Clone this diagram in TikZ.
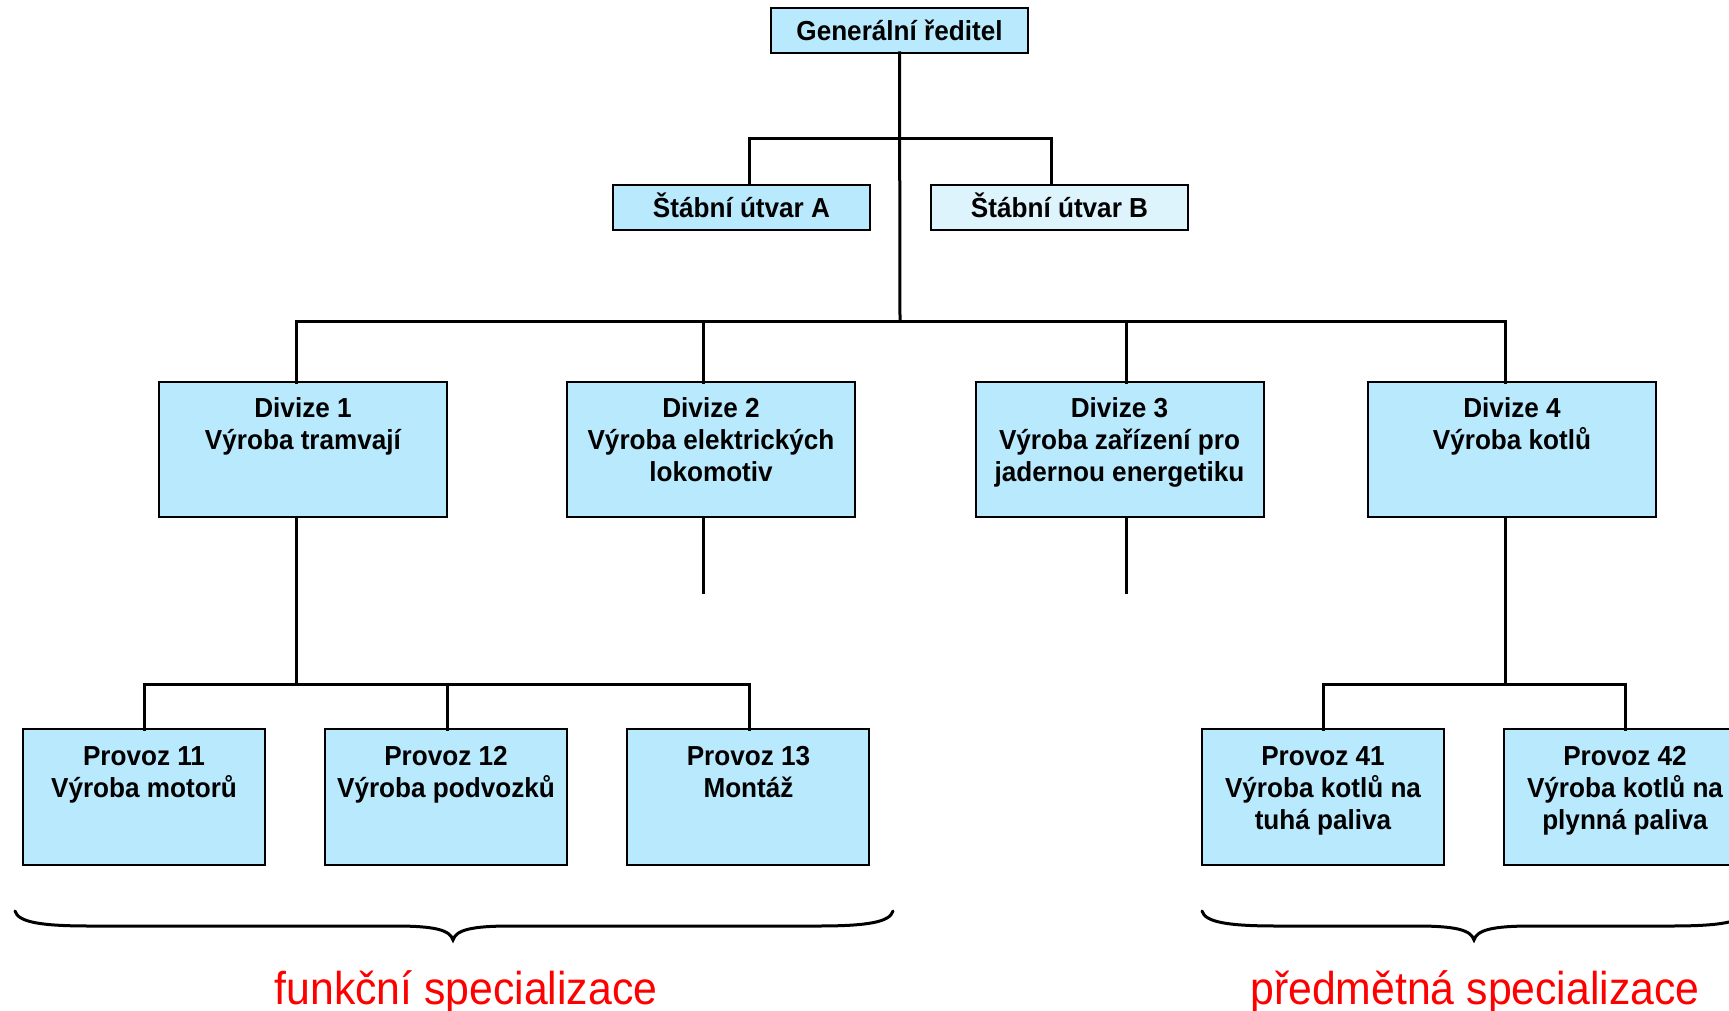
\documentclass[tikz,border=0pt]{standalone}
\usepackage{fontspec}
\setmainfont[FakeStretch=0.93]{Liberation Sans}
\newfontfamily\boxfont[FakeStretch=0.95]{Liberation Sans}
\definecolor{boxblue}{RGB}{185,233,253}
\definecolor{boxlight}{RGB}{222,244,253}
\definecolor{labred}{RGB}{255,0,0}
\newcommand{\topstrut}{\rule{0pt}{26pt}}
\tikzset{
  box/.style={draw=black, line width=2pt, fill=boxblue, rectangle, inner sep=0pt, outer sep=0pt, anchor=north west},
  txt/.style={align=center, inner sep=0pt, anchor=north, font=\boxfont\fontsize{27.5}{32}\selectfont\bfseries},
  conn/.style={line width=3pt, line cap=rect},
  brace/.style={line width=3pt, line cap=round},
  lab/.style={text=labred, inner sep=0pt, anchor=base, font=\fontsize{46}{50}\selectfont}
}
\begin{document}
\begin{tikzpicture}[x=1pt,y=-1pt]
\useasboundingbox (0,0) rectangle (1729,1011);
\clip (0,0) rectangle (1729,1011);
\fill[white] (0,0) rectangle (1729,1011);

% connector end points
\coordinate (bus) at (900,321);
\coordinate (staffj) at (900,139);
\coordinate (saT) at (749,185);
\coordinate (sbT) at (1051,185);
\coordinate (d1T) at (296,382);
\coordinate (d2T) at (703,382);
\coordinate (d3T) at (1126,382);
\coordinate (d4T) at (1505,382);
\coordinate (d1B) at (296,517);
\coordinate (d2B) at (703,517);
\coordinate (d3B) at (1126,517);
\coordinate (d4B) at (1505,517);
\coordinate (d2S) at (703,592);
\coordinate (d3S) at (1126,592);
\coordinate (pj1) at (296,684);
\coordinate (pj4) at (1505,684);
\coordinate (p11T) at (144,729);
\coordinate (p12T) at (447,729);
\coordinate (p13T) at (749,729);
\coordinate (p41T) at (1323,729);
\coordinate (p42T) at (1625,729);

% boxes
\node[box, minimum width=257pt, minimum height=45pt] (gr) at (771,8) {};
\node[box, minimum width=257pt, minimum height=45pt] (sa) at (613,185) {};
\node[box, fill=boxlight, minimum width=257pt, minimum height=45pt] (sb) at (931,185) {};
\node[box, minimum width=288pt, minimum height=135pt] (d1) at (159,382) {};
\node[box, minimum width=288pt, minimum height=135pt] (d2) at (567,382) {};
\node[box, minimum width=288pt, minimum height=135pt] (d3) at (976,382) {};
\node[box, minimum width=288pt, minimum height=135pt] (d4) at (1368,382) {};
\node[box, minimum width=242pt, minimum height=136pt] (p11) at (23,729) {};
\node[box, minimum width=242pt, minimum height=136pt] (p12) at (325,729) {};
\node[box, minimum width=242pt, minimum height=136pt] (p13) at (627,729) {};
\node[box, minimum width=242pt, minimum height=136pt] (p41) at (1202,729) {};
\node[box, minimum width=242pt, minimum height=136pt] (p42) at (1504,729) {};

\draw[conn] (gr.south) -- (bus);
\draw[conn] (saT) |- (staffj) -| (sbT);
\draw[conn] (d1T) |- (bus) -| (d4T);
\draw[conn] (d2T) -- (d2T |- bus);
\draw[conn] (d3T) -- (d3T |- bus);
\draw[conn] (d2B) -- (d2S);
\draw[conn] (d3B) -- (d3S);
\draw[conn] (d1B) -- (pj1);
\draw[conn] (p11T) |- (pj1) -| (p13T);
\draw[conn] (p12T) -- (p12T |- pj1);
\draw[conn] (d4B) -- (pj4);
\draw[conn] (p41T) |- (pj4) -| (p42T);

% texts
\node[txt] (grt) at (899.5,14) {\topstrut Generální ředitel};
\node[txt] (sat) at (741.5,191) {\topstrut Štábní útvar A};
\node[txt] (sbt) at (1059.5,191) {\topstrut Štábní útvar B};
\node[txt] (d1t) at (303,391) {\topstrut Divize 1\\Výroba tramvají};
\node[txt] (d2t) at (711,391) {\topstrut Divize 2\\Výroba elektrických\\lokomotiv};
\node[txt] (d3t) at (1119.5,391) {\topstrut Divize 3\\Výroba zařízení pro\\jadernou energetiku};
\node[txt] (d4t) at (1512,391) {\topstrut Divize 4\\Výroba kotlů};
\node[txt] (p11t) at (144,739) {\topstrut Provoz 11\\Výroba motorů};
\node[txt] (p12t) at (446,739) {\topstrut Provoz 12\\Výroba podvozků};
\node[txt] (p13t) at (748.5,739) {\topstrut Provoz 13\\Montáž};
\node[txt] (p41t) at (1323,739) {\topstrut Provoz 41\\Výroba kotlů na\\tuhá paliva};
\node[txt] (p42t) at (1625,739) {\topstrut Provoz 42\\Výroba kotlů na\\plynná paliva};

% braces
\draw[brace] (15,911) .. controls (18,922) and (40,926) .. (90,926) -- (395,926)
  .. controls (435,926) and (450,930) .. (453,940)
  .. controls (456,930) and (471,926) .. (511,926) -- (818,926)
  .. controls (868,926) and (890,922) .. (893,911);
\draw[brace] (1202,911) .. controls (1205,922) and (1227,926) .. (1277,926) -- (1416,926)
  .. controls (1456,926) and (1471,930) .. (1474,940)
  .. controls (1477,930) and (1492,926) .. (1532,926) -- (1671,926)
  .. controls (1721,926) and (1743,922) .. (1746,911);

% labels
\node[lab] (l1) at (466,1004) {funkční specializace};
\node[lab] (l2) at (1475,1004) {předmětná specializace};
\end{tikzpicture}
\end{document}
